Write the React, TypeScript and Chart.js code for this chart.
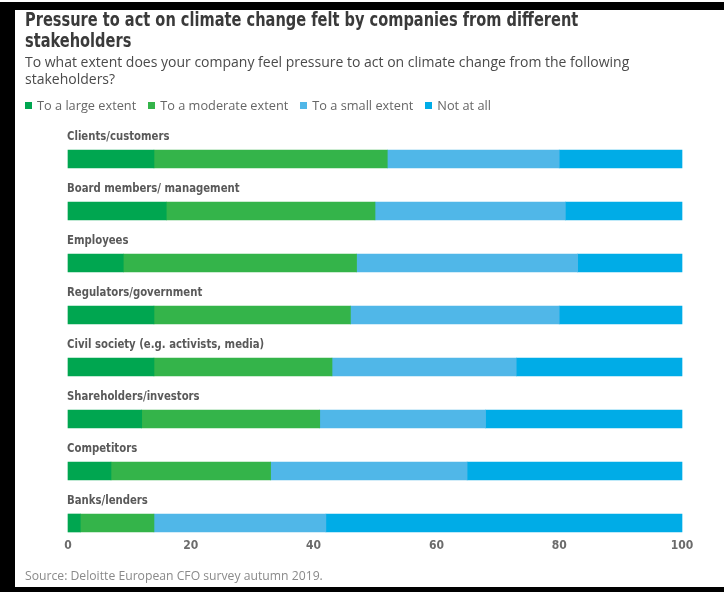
import React, { useEffect, useRef } from "react";
import { Chart, registerables } from "chart.js";

Chart.register(...registerables);

const categories = [
  "Clients/customers",
  "Board members/ management",
  "Employees",
  "Regulators/government",
  "Civil society (e.g. activists, media)",
  "Shareholders/investors",
  "Competitors",
  "Banks/lenders",
];
const seriesNames = ["To a large extent", "To a moderate extent", "To a small extent", "Not at all"];
const largeExtent = [14, 16, 9, 14, 14, 12, 7, 2];
const moderateExtent = [38, 34, 38, 32, 29, 29, 26, 12];
const smallExtent = [28, 31, 36, 34, 30, 27, 32, 28];
const notAtAll = [20, 19, 17, 20, 27, 32, 35, 58];
const xTickValues = [0, 20, 40, 60, 80, 100];
const seriesColors = ["#00A650", "#34B44A", "#50B7E8", "#00ACE7"];

const seriesValues = [largeExtent, moderateExtent, smallExtent, notAtAll];

const NARROW = '"DejaVu Sans Condensed", "Liberation Sans Narrow", sans-serif';
const OPEN = '"Open Sans", "Noto Sans", sans-serif';

const catLabelPlugin = {
  id: "catLabels",
  afterDatasetsDraw(chart: any) {
    const { ctx } = chart;
    const x = chart.scales.x;
    const y = chart.scales.y;
    const k = 0.9;
    ctx.save();
    ctx.font = `bold 12.5px ${NARROW}`;
    ctx.fillStyle = "#595959";
    ctx.textBaseline = "middle";
    ctx.textAlign = "left";
    ctx.scale(k, 1);
    categories.forEach((c, i) => {
      ctx.fillText(c, (x.getPixelForValue(0) - 1) / k, y.getPixelForValue(i) - 22);
    });
    ctx.restore();
  },
};

function BarChart() {
  const ref = useRef<HTMLCanvasElement | null>(null);
  useEffect(() => {
    if (!ref.current) return;
    const chart = new Chart(ref.current, {
      type: "bar",
      data: {
        labels: categories,
        datasets: seriesNames.map((name, i) => ({
          label: name,
          data: seriesValues[i],
          backgroundColor: seriesColors[i],
          borderWidth: 0,
          barThickness: 18,
          clip: false as any,
        })),
      },
      options: {
        indexAxis: "y",
        animation: false,
        responsive: false,
        maintainAspectRatio: false,
        layout: { padding: { left: 68, right: 42, top: 159, bottom: 39 } },
        plugins: {
          legend: { display: false },
          tooltip: { enabled: false },
        },
        scales: {
          x: {
            stacked: true,
            min: 0,
            max: 100,
            grid: { display: false, drawTicks: false },
            border: { display: false },
            afterFit: (scale: any) => {
              scale.height = 30;
            },
            afterBuildTicks: (scale: any) => {
              scale.ticks = xTickValues.map((v) => ({ value: v }));
            },
            ticks: {
              padding: 16,
              color: "#6b6b6b",
              font: { family: NARROW, weight: "bold", size: 12 },
            },
          },
          y: {
            stacked: true,
            display: false,
            offset: false,
            grid: { display: false },
          },
        },
      },
      plugins: [catLabelPlugin],
    });
    return () => chart.destroy();
  }, []);
  return (
    <canvas
      ref={ref}
      width={724}
      height={592}
      style={{ position: "absolute", left: 0, top: 0, width: 724, height: 592 }}
    />
  );
}

export default function App() {
  return (
    <div
      style={{
        position: "fixed",
        left: 0,
        top: 0,
        width: 724,
        height: 592,
        background: "#fff",
        overflow: "hidden",
      }}
    >
      <BarChart />
      <div style={{ position: "absolute", left: 0, top: 2, width: 724, height: 8, background: "#000" }} />
      <div style={{ position: "absolute", left: 0, top: 2, width: 15, height: 590, background: "#000" }} />
      <div style={{ position: "absolute", left: 0, top: 587, width: 724, height: 5, background: "#000" }} />
      <div
        style={{
          position: "absolute",
          left: 25,
          top: 9,
          fontFamily: NARROW,
          fontWeight: "bold",
          fontSize: 20,
          lineHeight: "21px",
          color: "#3a3a3a",
          whiteSpace: "nowrap",
          transform: "scaleX(0.811)",
          transformOrigin: "left top",
        }}
      >
        Pressure to act on climate change felt by companies from different
        <br />
        stakeholders
      </div>
      <div
        style={{
          position: "absolute",
          left: 25,
          top: 53,
          fontFamily: OPEN,
          fontSize: 14,
          lineHeight: "17px",
          color: "#4a4a4a",
          whiteSpace: "nowrap",
        }}
      >
        To what extent does your company feel pressure to act on climate change from the following
        <br />
        stakeholders?
      </div>
      <div
        style={{
          position: "absolute",
          left: 25,
          top: 97,
          display: "flex",
          alignItems: "center",
          fontFamily: OPEN,
          fontSize: 12.75,
          lineHeight: "16px",
          color: "#666",
          whiteSpace: "nowrap",
        }}
      >
        {seriesNames.map((n, i) => (
          <div key={n} style={{ display: "flex", alignItems: "center", marginRight: 12 }}>
            <span style={{ display: "inline-block", width: 7, height: 7, background: seriesColors[i], marginRight: 5 }} />
            <span>{n}</span>
          </div>
        ))}
      </div>
      <div
        style={{
          position: "absolute",
          left: 25,
          top: 568,
          fontFamily: OPEN,
          fontSize: 12.2,
          lineHeight: "16px",
          color: "#8a8a8a",
          whiteSpace: "nowrap",
        }}
      >
        Source: Deloitte European CFO survey autumn 2019.
      </div>
    </div>
  );
}
